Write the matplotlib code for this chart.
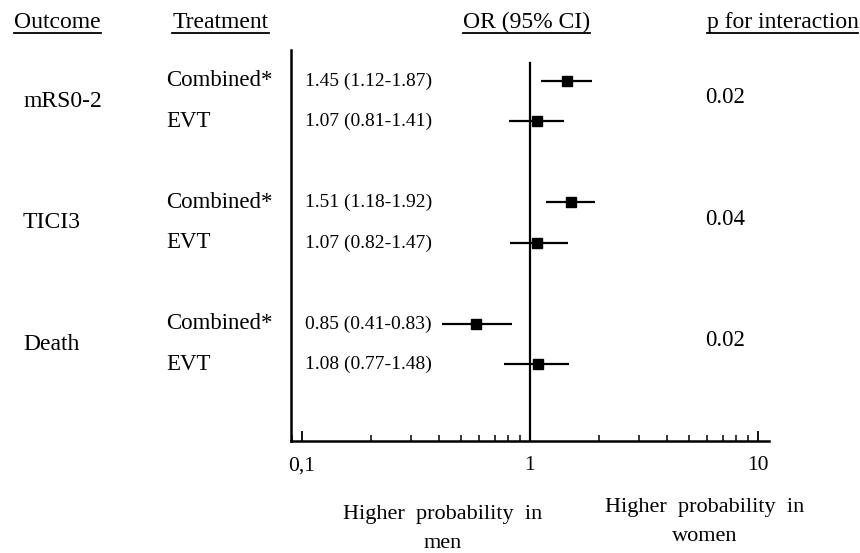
import matplotlib.pyplot as plt
from matplotlib.lines import Line2D
from matplotlib.transforms import blended_transform_factory

plt.rcParams['font.family'] = ['Liberation Serif', 'DejaVu Serif']

outcomes = ['mRS0-2', 'TICI3', 'Death']
treatments = ['Combined*', 'EVT', 'Combined*', 'EVT', 'Combined*', 'EVT']
or_text = ['1.45 (1.12-1.87)', '1.07 (0.81-1.41)', '1.51 (1.18-1.92)',
           '1.07 (0.82-1.47)', '0.85 (0.41-0.83)', '1.08 (0.77-1.48)']
# point estimates as drawn in the figure
or_est = [1.45, 1.07, 1.51, 1.07, 0.58, 1.08]
ci_low = [1.12, 0.81, 1.18, 0.82, 0.41, 0.77]
ci_high = [1.87, 1.41, 1.92, 1.47, 0.83, 1.48]
p_inter = ['0.02', '0.04', '0.02']

# row positions (top to bottom)
ypos = [0, 1, 3, 4, 6, 7]

W, H = 860, 553
fig = plt.figure(figsize=(W / 100, H / 100), dpi=100)
ax = fig.add_axes([291 / W, 1 - 441 / H, (769 - 291) / W, (441 - 50) / H])

ax.set_xscale('log')
ax.set_xlim(0.0895, 11.18)
ax.set_ylim(8.89, -0.765)

for y, est, lo, hi in zip(ypos, or_est, ci_low, ci_high):
    ax.plot([lo, hi], [y, y], color='black', lw=1.6, solid_capstyle='butt')
    ax.plot(est, y, marker='s', color='black', ms=7.2)

ax.plot([1, 1], [-0.44, 8.89], color='black', lw=1.6)

for s in ['top', 'right']:
    ax.spines[s].set_visible(False)
ax.spines['left'].set_linewidth(1.8)
ax.spines['bottom'].set_linewidth(1.8)
ax.set_yticks([])
ax.set_xticks([0.1, 1, 10])
ax.set_xticklabels(['0,1', '1', '10'])
ax.tick_params(axis='x', which='major', direction='in', length=7, width=1.3,
               labelsize=15.5, pad=11)
ax.tick_params(axis='x', which='minor', direction='in', length=4, width=1.1)
ax.xaxis.set_minor_formatter(plt.NullFormatter())

tr = blended_transform_factory(fig.transFigure, ax.transData)

for i, (t, o) in enumerate(zip(treatments, or_text)):
    ax.text(166 / W, ypos[i], t, transform=tr, fontsize=16.5, va='center', ha='left')
    ax.text(305 / W, ypos[i], o, transform=tr, fontsize=14, va='center', ha='left')

for k, name in enumerate(outcomes):
    ymid = (ypos[2 * k] + ypos[2 * k + 1]) / 2
    ax.text(23 / W, ymid, name, transform=tr, fontsize=17, va='center', ha='left')
    ax.text(705 / W, ymid - 0.08, p_inter[k], transform=tr, fontsize=16.5,
            va='center', ha='left')

headers = [('Outcome', 57.5), ('Treatment', 220.5), ('OR (95% CI)', 526.5),
           ('p for interaction', 782.5)]
htexts = []
for h, x in headers:
    htexts.append(fig.text(x / W, 1 - 28 / H, h, fontsize=17, ha='center',
                           va='baseline'))

fig.text(443 / W, 1 - 529 / H, 'Higher  probability  in\nmen', fontsize=16,
         ha='center', va='center', linespacing=1.7)
fig.text(705 / W, 1 - 522 / H, 'Higher  probability  in\nwomen', fontsize=16,
         ha='center', va='center', linespacing=1.7)

# underline the headers
for t in htexts:
    bb = t.get_window_extent(fig.canvas.get_renderer())
    bb = bb.transformed(fig.transFigure.inverted())
    yl = 1 - 32.5 / H
    fig.add_artist(Line2D([bb.x0, bb.x1], [yl, yl], transform=fig.transFigure,
                          color='black', lw=1.3))

fig.savefig('out.png', dpi=100)
